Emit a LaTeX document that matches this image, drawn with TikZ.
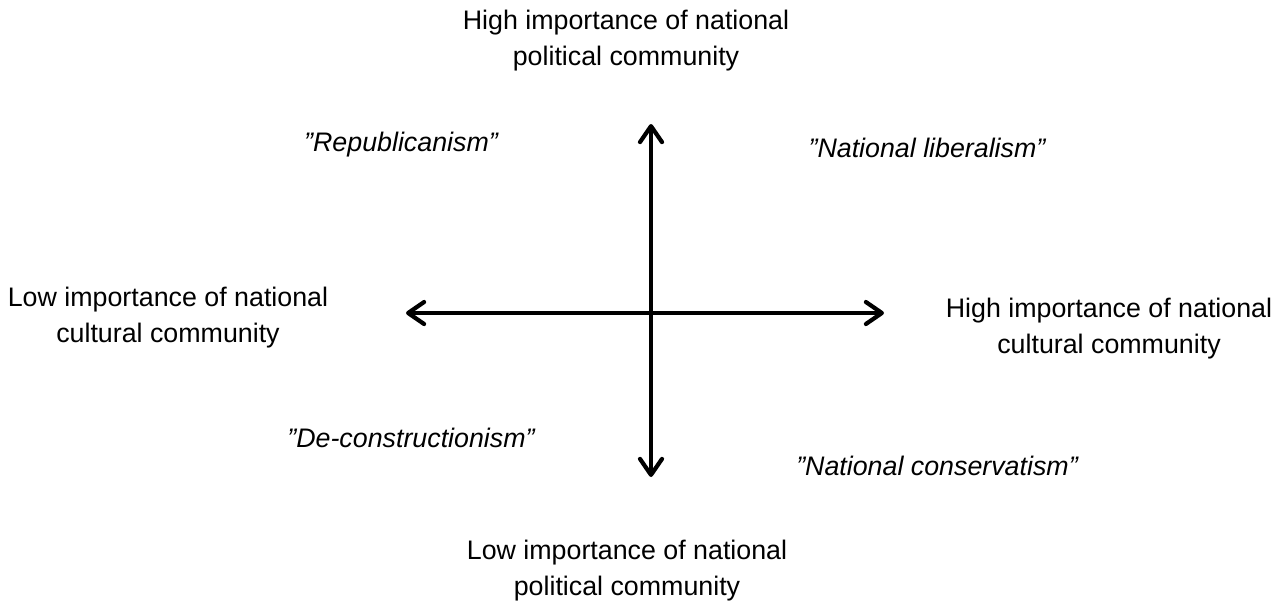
\documentclass[tikz,border=0pt]{standalone}
\usepackage{fontspec}
\setmainfont{Liberation Sans}
\usetikzlibrary{arrows.meta,positioning}

\begin{document}
\begin{tikzpicture}[x=0.5pt,y=-0.5pt,line width=2.1pt,
  axis/.style={{Straight Barb[length=8pt,width=11pt,round]}-{Straight Barb[length=8pt,width=11pt,round]}},
  every node/.style={font=\fontsize{13.4}{18}\selectfont,align=center,inner sep=0pt}]
\tikzstyle{school}=[font=\fontsize{13.4}{18}\selectfont\itshape]
\useasboundingbox (0,0) rectangle (1281,607);
%
% end points of the two axes
\coordinate (ntop) at (651,124);
\coordinate (nbot) at (651,477);
\coordinate (nleft) at (406,313);
\coordinate (nright) at (884,313);
%
\node (poltop) at (626,41) {High importance of national\\political community};
\node (polbot) at (627,571) {Low importance of national\\political community};
\node (cultlow) at (168,318) {Low importance of national\\cultural community};
\node (culthigh) at (1109,329) {High importance of national\\cultural community};
%
\node[school] (repub) at (401,145) {”Republicanism”};
\node[school] (natlib) at (927,148) {”National liberalism”};
\node[school] (decon) at (411,438) {”De-constructionism”};
\node[school] (natcon) at (937,466) {”National conservatism”};
%
\draw[axis] (nbot) -- (ntop);
\draw[axis] (nleft) -- (nright);
\end{tikzpicture}
\end{document}
